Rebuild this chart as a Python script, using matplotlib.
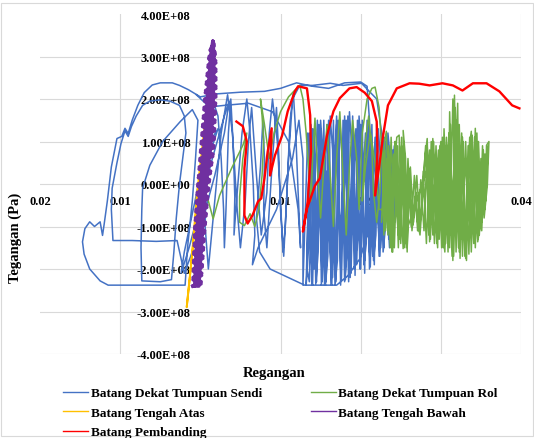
import matplotlib
matplotlib.use("Agg")
import matplotlib.pyplot as plt
import numpy as np
from matplotlib.patches import Rectangle

# ---------------- data (strain in per-mille, stress in MPa) ----------------
sendi_pts = [
    (0, 0), (1, 60), (2.2, 130), (1.2, 100), (0, 20), (-1, -70), (-2, -160), (-2.4, -210),
    (-1.4, -150), (0, -50), (1.5, 60), (3, 160), (3.6, 195), (3.0, 120), (1.8, 20), (0.2, -90),
    (-1.2, -170), (-2.0, -210),
    (-2.9, -133), (-5.5, -135), (-8.5, -133), (-10.9, -133), (-11.1, -60), (-11.0, -10),
    (-10.4, 50), (-9.9, 95), (-9.4, 125), (-9.0, 112), (-8.6, 135), (-8.0, 160), (-7.2, 185),
    (-6.3, 195), (-5.0, 198), (-3.8, 195), (-2.6, 185), (-2.0, 160), (-1.8, 120), (-2.2, 60),
    (-2.6, 0), (-3.0, -80), (-3.3, -160), (-3.6, -225),
    (-5.0, -230), (-7.3, -228), (-7.4, -150), (-7.3, -60), (-7.2, -10), (-6.3, 44), (-4.7, 100),
    (-2.5, 147), (-1.0, 175), (-0.3, 150), (-0.6, 60), (-1.0, -40), (-1.6, -150), (-1.9, -238),
    (-6, -238), (-11.5, -238), (-12.5, -228), (-13.8, -200), (-14.5, -165), (-14.7, -136),
    (-14.4, -105), (-13.8, -89), (-13.2, -100), (-12.5, -89), (-12.2, -121), (-12.0, -95),
    (-11.6, -40), (-11.1, 40), (-10.4, 107), (-9.8, 112), (-9.4, 131), (-9.0, 119), (-8.5, 150),
    (-7.8, 185), (-7.0, 215), (-6.0, 233), (-5.0, 238), (-3.5, 238), (-2.6, 232), (-1.5, 222),
    (0, 205), (2, 212), (5, 216), (8, 218), (10, 225), (12, 238), (14, 230), (16, 225),
    (18, 238), (20, 240), (20.8, 230), (21.1, 150), (21.2, 60), (21.2, -58), (20.8, -122),
    (19.9, -176), (18.4, -216), (17, -238), (13, -238), (8.7, -200), (7.4, -160), (7.0, -80),
    (7.5, 40), (7.8, 150), (8.0, 60), (7.9, -60), (8.3, -150), (8.6, -60), (9.0, 60), (9.5, 180),
    (9.8, 60), (10.0, -60), (10.4, -170), (10.8, -20), (11.2, 150), (11.6, 215), (11.9, 120),
    (12.2, -20), (12.5, -150), (12.2, -60), (11.0, 100), (9.0, 170), (6.0, 190), (3.0, 185),
    (0.5, 180), (1.5, 200), (2.2, 160), (2.6, 60), (2.9, -60), (3.0, -150), (3.2, -60), (3.5, 120),
    (3.8, 200), (4.1, 90), (4.3, -30), (4.2, -120), (4.6, -20), (5.2, 120), (5.8, 200), (6.2, 120),
    (6.6, 0), (6.8, -120), (6.5, -190), (7.2, -150), (9.5, -60), (11.5, 60), (12.3, 150),
    (12.8, 60), (12.8, -238),
    (13.1, -60), (13.4, 120), (13.7, -100), (14.0, -238), (14.3, 0), (14.6, 150), (14.9, -50),
    (15.2, -230), (15.5, -20), (15.8, 140), (16.1, -80), (16.4, -238), (16.7, 20), (17.0, 160),
    (17.3, -40), (17.6, -225), (17.9, 0), (18.2, 150), (18.5, -60), (18.8, -210), (19.1, 30),
    (19.4, 130), (19.7, -80), (20.0, -200), (20.3, 20), (20.6, 120), (20.9, -90), (21.2, -195),
    (21.5, 10), (21.8, 110), (22.1, -60), (22.4, -170), (22.7, 0), (23.0, 110), (23.3, -40),
    (23.6, -150), (23.9, 20), (24.2, 90), (24.4, -30),
    (24.0, -120), (23.7, 60), (23.4, 120), (23.1, -100), (22.8, -160), (22.5, 50), (22.2, 130),
    (21.9, -120), (21.6, -180), (21.3, 60), (21.0, 150), (20.7, -140), (20.4, -190), (20.1, 70),
    (19.8, 160), (19.5, -150), (19.2, -200), (18.9, 80), (18.6, 170), (18.3, -160), (18.0, -230),
    (17.7, 60), (17.4, 150), (17.1, -180), (16.8, -238), (16.5, 80), (16.2, 160), (15.9, -170),
    (15.6, -238), (15.3, 70), (15.0, 150), (14.7, -160), (14.4, -235), (14.1, 60), (13.8, 140),
    (13.5, -150), (13.2, -238),
    (13.5, 0), (13.9, 100), (14.2, -200), (14.8, 90), (15.3, -120), (15.7, 30), (16.3, -200),
    (16.9, 100), (17.5, -130), (18.0, 80), (18.7, -180), (19.3, 100), (19.9, -140), (20.5, 60),
    (21.1, -160), (21.7, 70), (22.3, -110), (22.9, 60), (23.5, -100), (24.0, 50),
    (24.2, -60), (23.8, 90), (23.5, -130), (23.2, 100), (22.9, -150), (22.6, 120), (22.3, -170),
    (22.0, 140), (21.7, -190), (21.4, 140), (21.1, -200), (20.8, 150), (20.5, -210), (20.2, 150),
    (19.9, -200), (19.6, 150), (19.3, -215), (19.0, 160), (18.7, -220), (18.4, 160), (18.1, -225),
    (17.8, 150), (17.5, -238), (17.2, 150), (16.9, -230), (16.6, 150), (16.3, -238), (16.0, 140),
    (15.7, -230), (15.4, 150), (15.1, -238), (14.8, 140), (14.5, -230), (14.2, 130), (13.9, -238),
    (13.6, 120), (13.3, -200),
    (13.6, -230), (14.0, 130), (14.5, -200), (15.0, 130), (15.5, -238), (16.0, 150), (16.5, -220),
    (17.0, 140), (17.5, -200), (18.0, 160), (18.5, -230), (19.0, 130), (19.5, -190), (20.0, 140),
    (20.5, -180), (21.0, 130), (21.5, -170), (22.0, 120), (22.5, -150), (23.0, 100), (23.5, -120),
    (24.0, 80), (24.3, -90),
    (22.0, 200), (20.1, 237), (17.8, 232), (16.2, 237), (14.0, 232), (12.4, 232),
    (11.5, 200), (11.0, 60), (10.6, -100), (10.3, -160), (10.0, -40), (9.6, 100), (9.0, 200),
    (8.6, 120), (8.3, -20), (7.6, -120), (7.0, 20), (6.4, 180), (6.0, 100), (5.6, -40),
    (5.0, -150), (4.6, -60), (4.0, 120), (3.4, 210), (2.6, 120), (2.0, 0), (1.4, -120),
    (1.0, -200), (0.6, -100), (0.8, 60), (1.2, 180), (-0.5, 210),
]

rol_pts = [
    (0, 0), (1.0, -40), (1.6, -82), (2.4, -27), (3.9, 37), (5.3, 91), (5.8, 120), (5.3, 60),
    (4.9, -30), (4.9, -90), (5.5, -98), (6.2, -70), (6.8, -100), (7.3, -60), (7.7, 20),
    (7.9, 100), (7.7, 160), (7.5, 200), (8.0, 140), (8.6, 60), (9.2, 120), (10.0, 170),
    (11.0, 205), (12.0, 225), (12.4, 232), (12.8, 200), (13.2, 120), (13.5, 40), (13.8, -40),
    (14.0, 60), (14.3, 155), (14.6, 40), (15.0, -80), (15.4, 40), (15.8, 140), (16.2, 20),
    (16.6, -100), (17.0, 60), (17.4, 170), (17.8, 20), (18.2, -120), (18.6, 40), (19.0, 150),
    (19.5, 60), (19.8, -60), (20.2, 120), (20.8, 200), (21.4, 225), (21.8, 228), (22.3, 180),
    (22.6, 90), (22.4, -20), (22.0, -90), (21.6, -20), (21.4, 80), (21.0, 160), (20.6, 100),
    (20.2, -40), (20.6, 40), (21.2, 120), (21.8, 50), (22.3, -60),
    (22.8, -60), (23.0, 100), (23.2, 124), (23.5, -50), (23.8, -130), (24.0, -160), (24.2, 20),
    (24.5, 110), (24.8, 115), (25.0, -40), (25.3, -152), (25.5, 0), (25.3, 126), (25.6, 60),
    (25.8, -160), (26.0, 36), (26.2, -40), (26.5, -97), (26.8, -30), (27.0, -80), (27.4, -120),
    (27.7, -40), (28.0, 60), (28.3, 107), (28.6, -136), (28.9, 40), (29.0, 107), (29.3, -60),
    (29.6, -150), (29.8, 50), (30.0, 100), (30.3, -120), (30.5, -160), (30.8, 60), (31.2, 140),
    (31.5, -180), (31.7, 209), (32.0, -100), (32.2, 130), (32.4, -175), (32.7, 110), (33.0, -140),
    (33.2, -180), (33.5, 80), (33.8, 124), (34.0, -90), (34.3, 131), (34.6, -136), (34.9, -100),
    (35.2, 90), (35.5, -60), (35.7, 91), (36.0, 100), (35.8, -3),
    (35.4, -80), (35.0, 60), (34.6, -130), (34.2, 110), (33.8, -160), (33.4, 90), (33.0, -170),
    (32.6, 120), (32.2, -150), (31.8, 180), (31.4, -170), (31.0, 120), (30.6, -140), (30.2, 110),
    (29.8, -130), (29.4, 90), (29.0, -120), (28.6, 80), (28.2, -140), (27.8, 30), (27.4, -100),
    (27.0, 20), (26.6, -90), (26.2, 40), (25.8, -150), (25.4, 100), (25.0, -140), (24.6, 90),
    (24.2, -150), (23.8, 110), (23.4, -120), (23.0, 80), (22.6, -90),
    (23.1, 40), (23.6, -100), (24.1, 70), (24.7, -120), (25.2, 60), (25.9, -100), (28.4, 40),
    (28.9, -80), (29.5, 60), (30.1, -100), (30.7, 90), (31.3, -120), (31.9, 150), (32.5, -130),
    (33.1, 60), (33.7, -120), (34.4, 70), (35.1, -90), (35.6, 50),
    (35.9, 90), (35.6, -40), (35.3, 80), (34.8, -120), (34.5, 120), (34.1, -140), (33.6, 110),
    (33.1, -175), (32.8, 100), (32.3, -160), (32.1, 190), (31.6, -170), (31.1, 170), (30.9, -160),
    (30.4, 130), (30.1, -150), (29.7, 80), (29.2, -140), (28.8, 100), (28.5, -120), (28.1, 90),
    (27.6, -60), (27.2, -110), (26.9, -20), (26.4, -110), (26.1, 20), (25.6, -140), (25.1, 90),
    (24.9, -130), (24.3, 100), (23.7, -150), (23.3, 60), (22.9, -120), (22.7, 100),
    (23.1, -110), (23.5, 90), (23.9, -160), (24.3, 100), (24.7, -150), (25.1, 110), (25.5, -150),
    (25.9, 60), (26.3, -100), (26.7, 20), (27.1, -110), (27.5, 10), (27.9, -110), (28.3, 90),
    (28.7, -130), (29.1, 100), (29.5, -140), (29.9, 90), (30.3, -150), (30.7, 110), (31.1, -150),
    (31.5, 200), (31.9, -160), (32.3, 140), (32.7, -170), (33.1, 100), (33.5, -165), (33.9, 115),
    (34.3, -150), (34.7, 100), (35.1, -110), (35.5, 70),
]

atas_pts = [
    (0.6, 150), (-0.45, -30), (-1.0, -160), (-1.7, -290), (-1.2, -200), (-0.6, -80), (0.6, 120),
    (1.3, 260), (1.0, 200), (0.2, 40),
]

bawah_pts = [
    (-0.94, -240), (0.10, -230), (-0.90, -220), (0.17, -210), (-0.87, -200), (0.24, -190),
    (-0.83, -180), (0.32, -170), (-0.80, -160), (0.40, -150), (-0.76, -140), (0.47, -130),
    (-0.73, -120), (0.54, -110), (-0.68, -100), (0.63, -90), (-0.60, -80), (0.73, -70),
    (-0.53, -60), (0.82, -50), (-0.45, -40), (0.92, -30), (-0.38, -20), (1.01, -10),
    (-0.30, 0), (1.14, 10), (-0.21, 20), (1.28, 30), (-0.13, 40), (1.43, 50), (-0.04, 60),
    (1.58, 70), (0.04, 80), (1.68, 90), (0.13, 100), (1.73, 110), (0.22, 120), (1.77, 130),
    (0.30, 140), (1.82, 150), (0.39, 160), (1.86, 170), (0.47, 180), (1.90, 190), (0.56, 200),
    (1.93, 210), (0.66, 220), (1.93, 230), (0.77, 240), (1.93, 250), (0.87, 260), (1.93, 270),
    (0.98, 280), (1.91, 290), (1.10, 300), (1.82, 310), (1.35, 320), (1.65, 330), (1.56, 336),
    (1.72, 325), (1.22, 315), (1.85, 305), (1.04, 295), (1.93, 285), (0.95, 275), (1.93, 265),
    (0.84, 255), (1.93, 245), (0.74, 235), (1.93, 225), (0.63, 215), (1.93, 205), (0.54, 195),
    (1.89, 185), (0.45, 175), (1.85, 165), (0.37, 155), (1.80, 145), (0.28, 135), (1.76, 125),
    (0.20, 115), (1.72, 105), (0.11, 95), (1.67, 85), (0.02, 75), (1.54, 65), (-0.06, 55),
    (1.39, 45), (-0.15, 35), (1.25, 25), (-0.24, 15), (1.10, 5), (-0.32, -5), (0.99, -15),
    (-0.40, -25), (0.89, -35), (-0.47, -45), (0.80, -55), (-0.55, -65), (0.70, -75),
    (-0.62, -85), (0.61, -95), (-0.70, -105), (0.52, -115), (-0.72, -125), (0.45, -135),
    (-0.77, -145), (0.38, -155), (-0.81, -165), (0.30, -175), (-0.84, -185), (0.23, -195),
    (-0.88, -205), (0.15, -215), (-0.91, -225), (0.08, -235), (-0.94, -240),
    (-0.69, -240), (-0.37, -100), (0.04, 0), (0.53, 100), (0.90, 200), (1.30, 300), (1.56, 336),
    (1.69, 300), (1.59, 200), (1.32, 100), (0.72, 0), (0.27, -100), (-0.19, -240),
    (-0.44, -240), (-0.05, -100), (0.38, 0), (0.93, 100), (1.25, 200), (1.49, 300),
]

pembanding_pts = [
    (4.5, 147), (5.3, 136), (5.8, 100), (5.5, 37), (5.5, -74), (5.9, -93), (6.5, -74),
    (7.2, -41), (7.6, -34), (8.0, 13), (8.4, 76), (8.9, 131), (8.7, 20), (9.3, 67), (10.2, 114),
    (10.9, 171), (11.8, 218), (12.2, 230), (13.3, 225), (13.7, 162), (13.8, 76), (13.4, -41),
    (12.8, -112), (13.3, -58), (14.3, -4), (14.9, 13), (15.8, 114), (16.6, 171), (17.4, 202),
    (18.6, 225), (19.5, 228), (20.5, 215), (21.4, 195), (22.0, 147), (22.1, 77), (21.8, -27),
    (22.3, 40), (22.8, 114), (23.4, 185), (24.5, 225), (26.1, 237), (27.3, 236), (28.6, 232),
    (30.2, 237), (31.5, 232), (32.7, 220), (34.0, 237), (35.7, 237), (37.3, 218), (38.9, 185),
    (39.8, 178),
]

series_names = [
    "Batang Dekat Tumpuan Sendi",
    "Batang Dekat Tumpuan Rol",
    "Batang Tengah Atas",
    "Batang Tengah Bawah",
    "Batang Pembanding",
]
series_data = [sendi_pts, rol_pts, atas_pts, bawah_pts, pembanding_pts]
series_colors = ["#4472C4", "#70AD47", "#FFC000", "#7030A0", "#FF0000"]
series_widths = [1.1, 1.1, 1.4, 2.6, 1.7]

x_ticks = [-0.02, -0.01, 0.0, 0.01, 0.02, 0.03, 0.04]
x_tick_labels = ["0.02", "0.01", "0", "0.01", "0.02", "0.03", "0.04"]
y_ticks = [-4e8, -3e8, -2e8, -1e8, 0, 1e8, 2e8, 3e8, 4e8]

# ---------------- figure ----------------
W, H = 534, 439
fig = plt.figure(figsize=(W / 100, H / 100), dpi=100)
fig.patches.append(Rectangle((0.002, 0.005), 0.996, 0.986, transform=fig.transFigure,
                             fill=False, edgecolor="#D9D9D9", linewidth=0.8))

ax = fig.add_axes([40 / W, 1 - 355 / H, 481 / W, 340 / H])
ax.set_xlim(-0.02, 0.04)
ax.set_ylim(-4e8, 4e8)

grid_c = "#D9D9D9"
for yv in y_ticks[:-1]:
    ax.axhline(yv, color=grid_c, lw=0.8, zorder=0)
for xv in x_ticks:
    if xv not in (-0.02, 0.0):
        ax.axvline(xv, color=grid_c, lw=0.8, zorder=0)

for name, pts, col, lw in zip(series_names, series_data, series_colors, series_widths):
    arr = np.array(pts, dtype=float)
    ax.plot(arr[:, 0] * 1e-3, arr[:, 1] * 1e6, color=col, lw=lw, label=name,
            solid_joinstyle="round", zorder=2)

for s in ["top", "right"]:
    ax.spines[s].set_visible(False)
ax.spines["bottom"].set_position(("data", 0))
ax.spines["bottom"].set_color("none")
ax.spines["left"].set_position(("data", 0))
ax.spines["left"].set_color("none")

font = dict(family="Liberation Serif", weight="bold")
ax.set_xticks(x_ticks)
ax.set_xticklabels(x_tick_labels, fontdict=dict(size=9, **font))
ax.set_yticks(y_ticks)
ax.set_yticklabels([f"{v:.2E}" for v in y_ticks], fontdict=dict(size=9, **font))
ax.tick_params(axis="both", length=0)
ax.tick_params(axis="x", pad=8)
ax.tick_params(axis="y", pad=7)
ax.set_facecolor("none")

fig.text(15 / W, 1 - 238 / H, "Tegangan (Pa)", rotation=90, ha="center", va="center",
         fontsize=10.5, **font)
fig.text(274 / W, 1 - 373 / H, "Regangan", ha="center", va="center", fontsize=10.5, **font)

order = [0, 2, 4, 1, 3]
leg_handles = []
for i in order:
    ln, = ax.plot([], [], color=series_colors[i], lw=1.0)
    leg_handles.append(ln)
fig.legend(leg_handles, [series_names[i] for i in order], ncol=2, frameon=False,
           loc="upper left", bbox_to_anchor=(63 / W, 1 - 388 / H),
           prop=dict(family="Liberation Serif", weight="bold", size=9.5),
           handlelength=1.9, handletextpad=0.2, columnspacing=3.7,
           labelspacing=0.55, borderpad=0, borderaxespad=0)

fig.savefig("out.png", dpi=100)
